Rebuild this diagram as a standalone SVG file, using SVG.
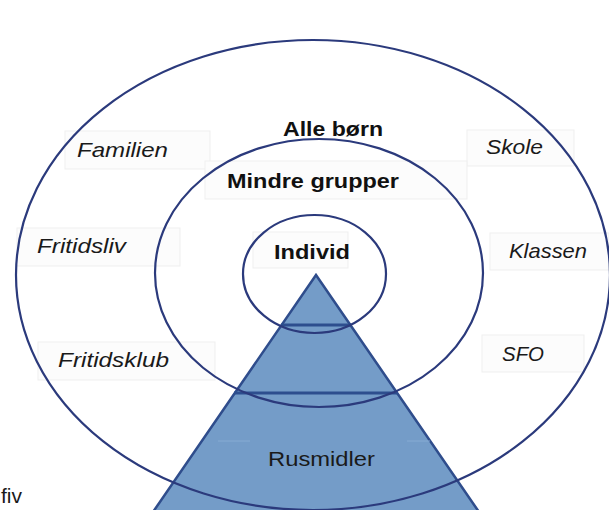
<svg xmlns="http://www.w3.org/2000/svg" width="609" height="510" viewBox="0 0 609 510">
<style>
.box{fill:#fcfcfc;stroke:#efefef;stroke-width:1}
.ring{fill:none;stroke:#2b3a7c;stroke-width:2.2}
.b{font-family:"Liberation Sans",Arial,sans-serif;font-weight:bold;font-size:20px;fill:#111}
.i{font-family:"Liberation Sans",Arial,sans-serif;font-style:italic;font-size:21px;fill:#1a1a1a}
.r{font-family:"Liberation Sans",Arial,sans-serif;font-size:21px;fill:#1a1a1a}
</style>
<rect width="609" height="510" fill="#ffffff"/>
<g id="boxes">
<rect class="box" x="65" y="131" width="145" height="38"/>
<rect class="box" x="467" y="130" width="107" height="36"/>
<rect class="box" x="205" y="161" width="262" height="38"/>
<rect class="box" x="17" y="228" width="163" height="38"/>
<rect class="box" x="490" y="233" width="119" height="37"/>
<rect class="box" x="38" y="342" width="177" height="38"/>
<rect class="box" x="482" y="335" width="102" height="37"/>
<rect class="box" x="253" y="232" width="95" height="36"/>
</g>
<g id="pyramid">
<polygon points="316,275 153,512 479,512" fill="#749cc8" stroke="#2f4d8c" stroke-width="2.5" stroke-linejoin="miter"/>
<line x1="281" y1="325" x2="351" y2="325" stroke="#2d4e8e" stroke-width="3"/>
<line x1="234" y1="393" x2="398" y2="393" stroke="#2d4e8e" stroke-width="3"/>
<line x1="218" y1="441" x2="250" y2="441" stroke="#86abd3" stroke-width="1"/>
<line x1="407" y1="441" x2="430" y2="441" stroke="#86abd3" stroke-width="1"/>
</g>
<g id="rings">
<ellipse class="ring" cx="313" cy="275" rx="297" ry="235"/>
<ellipse class="ring" cx="319" cy="273" rx="164" ry="134"/>
<ellipse class="ring" cx="314.5" cy="274" rx="71.5" ry="59"/>
</g>
<g id="connectors"></g>
<g id="alle-born"><text class="b" x="283" y="136" textLength="100" lengthAdjust="spacingAndGlyphs">Alle børn</text></g>
<g id="mindre-grupper"><text class="b" x="227" y="188" textLength="172" lengthAdjust="spacingAndGlyphs">Mindre grupper</text></g>
<g id="individ"><text class="b" x="274" y="259" textLength="76" lengthAdjust="spacingAndGlyphs">Individ</text></g>
<g id="familien"><text class="i" x="77" y="157" textLength="91" lengthAdjust="spacingAndGlyphs">Familien</text></g>
<g id="skole"><text class="i" x="486" y="154" textLength="57" lengthAdjust="spacingAndGlyphs">Skole</text></g>
<g id="fritidsliv"><text class="i" x="37" y="253" textLength="89" lengthAdjust="spacingAndGlyphs">Fritidsliv</text></g>
<g id="klassen"><text class="i" x="509" y="258" textLength="78" lengthAdjust="spacingAndGlyphs">Klassen</text></g>
<g id="fritidsklub"><text class="i" x="58" y="367" textLength="111" lengthAdjust="spacingAndGlyphs">Fritidsklub</text></g>
<g id="sfo"><text class="i" x="502" y="361" textLength="42" lengthAdjust="spacingAndGlyphs">SFO</text></g>
<g id="rusmidler"><text class="r" x="268" y="466" textLength="107" lengthAdjust="spacingAndGlyphs">Rusmidler</text></g>
<g id="fiv"><text class="r" x="1" y="503" font-size="16">fiv</text></g>
</svg>
